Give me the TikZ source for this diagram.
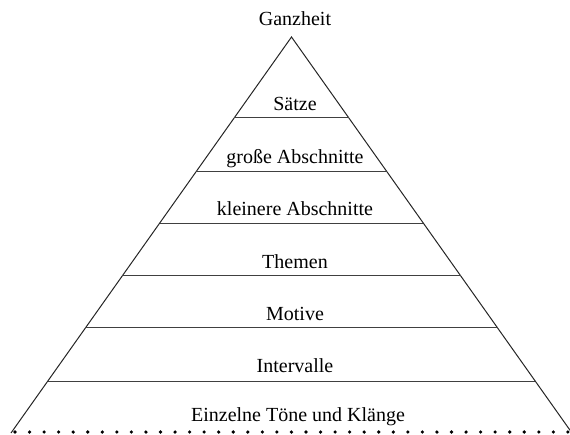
\documentclass[tikz,border=0pt]{standalone}
\usepackage{fontspec}
\setmainfont{Liberation Serif}
\usepackage{tikz}
\usetikzlibrary{calc}

\tikzset{
    level/.style={anchor=base, font=\fontsize{20}{24}\selectfont},
    side/.style={line width=1pt, black!85},
    layer/.style={line width=1pt, black!75}
}

\begin{document}
\begin{tikzpicture}[x=1pt, y=-1pt]
        % Frame of the picture
        \useasboundingbox (0,0) rectangle (570,434);

        % Pyramid corners
        \coordinate (apex) at (291.5,37);
        \coordinate (bl) at (11,433);
        \coordinate (br) at (572,433);
        \draw[side] (bl) -- (apex) -- (br);

        % Layer lines (fraction of the way from apex to base)
        \foreach \t in {0.2045,0.3384,0.4697,0.6035,0.7348,0.8687} {
            \draw[layer] ($(apex)!\t!(bl)$) -- ($(apex)!\t!(br)$);
        }

        % Dotted base
        \foreach \k in {0,...,38} {
            \fill (15+14.55*\k,432) circle (1.8);
        }

        % Labels (bottom to top)
        \node[level] (ganz) at (295,25) {Ganzheit};
        \node[level] (saetze) at (295,110) {Sätze};
        \node[level] (gross) at (295,163) {große Abschnitte};
        \node[level] (klein) at (295,215) {kleinere Abschnitte};
        \node[level] (themen) at (295,268) {Themen};
        \node[level] (motive) at (295,320) {Motive};
        \node[level] (interv) at (295,372) {Intervalle};
        \node[level] (toene) at (298,421.5) {Einzelne Töne und Klänge};
    \end{tikzpicture}
\end{document}
